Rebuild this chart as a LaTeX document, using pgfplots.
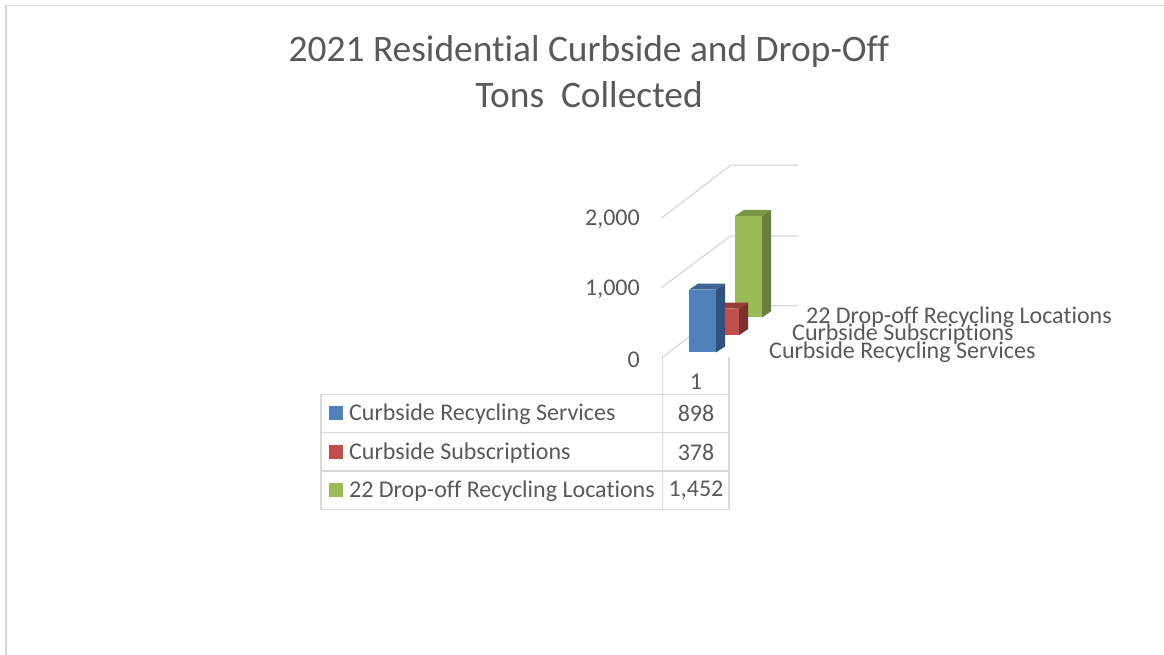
\documentclass[border=0pt]{standalone}
\usepackage{pgfplots}
\pgfplotsset{compat=1.18}
\usepackage{fontspec}
\setmainfont[Ligatures=NoCommon]{Carlito}
\definecolor{txt}{HTML}{595959}
\definecolor{gridc}{HTML}{D9D9D9}
\definecolor{bluef}{HTML}{4F81BD}\definecolor{blues}{HTML}{2F5280}\definecolor{bluet}{HTML}{3C6595}
\definecolor{redf}{HTML}{C0504D}\definecolor{reds}{HTML}{7F2F2D}\definecolor{redt}{HTML}{943C39}
\definecolor{greenf}{HTML}{9BBB59}\definecolor{greens}{HTML}{68803A}\definecolor{greent}{HTML}{789646}
\newcommand{\lab}{\fontsize{24}{24}\selectfont\color{txt}}
\begin{document}
\begin{tikzpicture}[x=1pt,y=1pt]
\path[use as bounding box] (0,0) rectangle (1164,655);
\begin{axis}[
  at={(0,0)},anchor=south west,scale only axis,
  width=1164pt,height=655pt,
  xmin=0,xmax=1164,ymin=-4321.4,ymax=5035.7,
  axis lines=left,
  axis line style={draw=none,-},
  xtick=\empty,
  clip=false,
  ytick={0,1000,2000},
  yticklabel style={xshift=640pt,yshift=-7pt,anchor=east,inner sep=0pt,font=\lab},
  /pgf/number format/1000 sep={,},
  /pgf/number format/assume math mode=true,
  major tick length=0pt,
  y tick style={draw=none},
]
% side wall and back wall gridlines
\addplot[gridc,line width=1.3pt] coordinates {(662,-71)(730.5,669)(798,669)};
\addplot[gridc,line width=1.3pt] coordinates {(662,931)(730.5,1664)(798,1664)};
\addplot[gridc,line width=1.3pt] coordinates {(662,1926)(730.5,2674)(798,2674)};
% green bar: 1452
\addplot[fill=greens,draw=none,yshift=35pt] coordinates {(762,0)(771,86)(771,1538)(762,1452)} --cycle;
\addplot[fill=greent,draw=none,yshift=35pt] coordinates {(735,1452)(744,1538)(771,1538)(762,1452)} --cycle;
\addplot[fill=greenf,draw=none,yshift=35pt] coordinates {(735,0)(735,1452)(762,1452)(762,0)} --cycle;
% red bar: 378
\addplot[fill=reds,draw=none,yshift=17.3pt] coordinates {(739,0)(748,86)(748,464)(739,378)} --cycle;
\addplot[fill=redt,draw=none,yshift=17.3pt] coordinates {(712,378)(721,464)(748,464)(739,378)} --cycle;
\addplot[fill=redf,draw=none,yshift=17.3pt] coordinates {(712,0)(712,378)(739,378)(739,0)} --cycle;
% blue bar: 898
\addplot[fill=blues,draw=none] coordinates {(716,0)(725,86)(725,984)(716,898)} --cycle;
\addplot[fill=bluet,draw=none] coordinates {(689,898)(698,984)(725,984)(716,898)} --cycle;
\addplot[fill=bluef,draw=none] coordinates {(689,0)(689,898)(716,898)(716,0)} --cycle;
\end{axis}
\begin{scope}[shift={(0,655)},y=-1pt,x=1pt]
% slide frame
\draw[gridc,line width=1.4pt] (6,655) -- (6,5.5) -- (1164,5.5);
% title
\node[anchor=center,inner sep=0pt,font=\fontsize{37.4}{38}\selectfont,text=txt] at (589,52) {2021 Residential Curbside and Drop-Off};
\node[anchor=center,inner sep=0pt,font=\fontsize{37.4}{38}\selectfont,text=txt] at (589,95) {Tons\ \ Collected};
% depth axis labels
\node[anchor=west,inner sep=0pt,font=\lab] at (806,317) {22 Drop-off Recycling Locations};
\node[anchor=west,inner sep=0pt,font=\lab] at (792,334.5) {Curbside Subscriptions};
\node[anchor=west,inner sep=0pt,font=\lab] at (769,352.5) {Curbside Recycling Services};
% data table
\draw[gridc,line width=1.4pt] (321,394.5) rectangle (729,509.5);
\draw[gridc,line width=1.4pt] (321,432.7) -- (729,432.7);
\draw[gridc,line width=1.4pt] (321,471) -- (729,471);
\draw[gridc,line width=1.4pt] (662.5,357.5) -- (662.5,509.5);
\draw[gridc,line width=1.4pt] (729,357.5) -- (729,509.5);
\fill[bluef] (329,406) rectangle (343,420);
\fill[redf] (329,445) rectangle (343,459);
\fill[greenf] (329,483) rectangle (343,497);
\node[anchor=west,inner sep=0pt,font=\lab] at (349,414.5) {Curbside Recycling Services};
\node[anchor=west,inner sep=0pt,font=\lab] at (349,453) {Curbside Subscriptions};
\node[anchor=west,inner sep=0pt,font=\lab] at (349,491) {22 Drop-off Recycling Locations};
\node[inner sep=0pt,font=\lab] at (696,381.5) {1};
\node[inner sep=0pt,font=\lab] at (696,413.5) {898};
\node[inner sep=0pt,font=\lab] at (696,452) {378};
\node[inner sep=0pt,font=\lab] at (696,490.5) {1,452};
\end{scope}
\end{tikzpicture}
\end{document}
